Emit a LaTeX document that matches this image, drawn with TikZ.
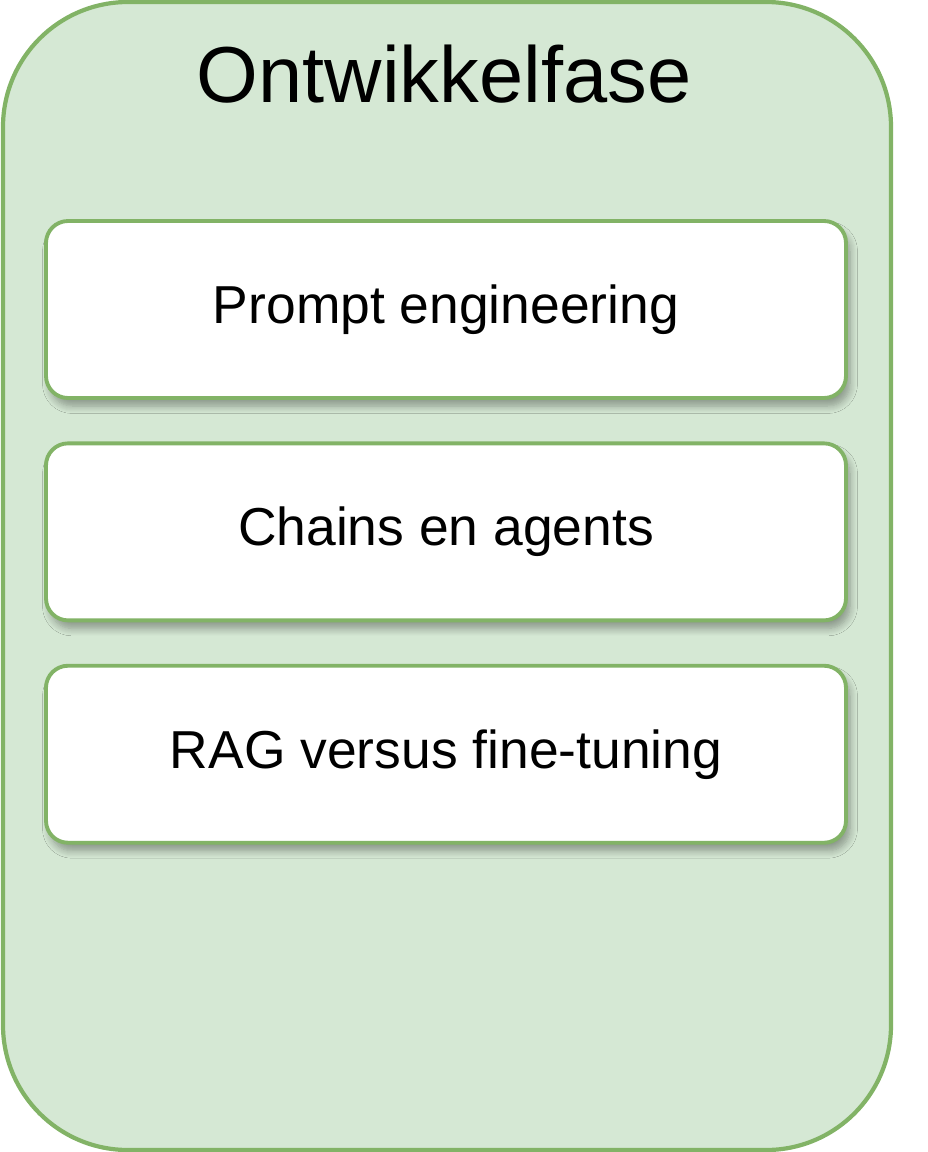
\documentclass[tikz,border=0pt]{standalone}
\usepackage{fontspec}
\setmainfont{Liberation Sans}
\usetikzlibrary{positioning,shadows,shadows.blur}
\definecolor{phasefill}{HTML}{D5E8D4}
\definecolor{phaseline}{HTML}{82B366}

\tikzset{
  stepbox/.style={draw=phaseline, fill=white, line width=1.1pt, rounded corners=0.22cm,
    minimum width=8cm, minimum height=1.77cm, font=\fontsize{15.2}{18}\selectfont,
    blur shadow={shadow xshift=0.04cm, shadow yshift=-0.08cm, shadow blur steps=8, shadow opacity=35}}
}

\begin{document}
\begin{tikzpicture}
\useasboundingbox (0,0) rectangle (9.28,-11.52);

% the phase frame
\draw[rounded corners=1.25cm, fill=phasefill, draw=phaseline, line width=1.2pt]
  (0.03,-0.02) rectangle (8.91,-11.50);

% title of the phase
\node (title) at (4.44,-0.74) {\fontsize{22.6}{27}\selectfont Ontwikkelfase};

% the three steps
\node[stepbox] (prompt) at (4.46,-3.095) {Prompt engineering};
\node[stepbox, below=0.415cm of prompt] (chains) {Chains en agents};
\node[stepbox, below=0.415cm of chains] (rag) {RAG versus fine-tuning};

\end{tikzpicture}
\end{document}
